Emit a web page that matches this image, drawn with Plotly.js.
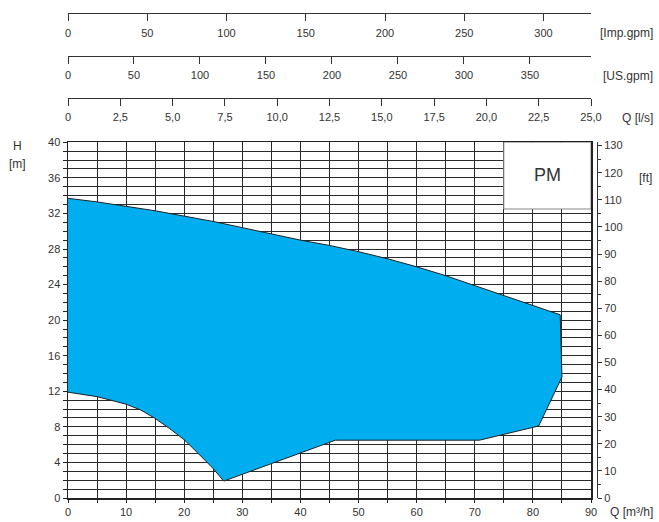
<!DOCTYPE html>
<html>
<head>
<meta charset="utf-8">
<script src="https://cdn.plot.ly/plotly-3.0.1.min.js"></script>
<style>html,body{margin:0;padding:0;background:#fff;}#chart{width:659px;height:522px;}</style>
</head>
<body>
<div id="chart"></div>
<script>
// ---- data ----
const Q_UPPER = [0, 5, 10, 15, 20, 25, 30, 35, 40, 45, 50, 55, 60, 65, 70, 75, 80, 84.7];
const H_UPPER = [33.7, 33.3, 32.8, 32.3, 31.7, 31.1, 30.4, 29.7, 29.0, 28.4, 27.7, 26.9, 26.0, 25.0, 23.9, 22.8, 21.7, 20.6];
const Q_RIGHT = [85.0, 81.0, 70.8, 46.0];
const H_RIGHT = [13.6, 8.1, 6.5, 6.5];
const Q_LOWER = [26.8, 25, 22.5, 20, 17.5, 15, 12.5, 10, 5, 0];
const H_LOWER = [1.9, 3.3, 4.95, 6.55, 7.8, 8.95, 9.9, 10.55, 11.4, 11.9];

const Q_TICKS = [0, 10, 20, 30, 40, 50, 60, 70, 80, 90];
const H_TICKS = [0, 4, 8, 12, 16, 20, 24, 28, 32, 36, 40];
const FT_TICKS = [0, 10, 20, 30, 40, 50, 60, 70, 80, 90, 100, 110, 120, 130];
const IMP_TICKS = [0, 50, 100, 150, 200, 250, 300];
const US_TICKS = [0, 50, 100, 150, 200, 250, 300, 350];
const LS_TICKS = [0, 2.5, 5, 7.5, 10, 12.5, 15, 17.5, 20, 22.5, 25];
const LS_LABELS = ['0', '2,5', '5,0', '7,5', '10,0', '12,5', '15,0', '17,5', '20,0', '22,5', '25,0'];

const Q_MAX = 90, H_MAX = 40;
const M3H_TO_IMP = 3.66615, M3H_TO_US = 4.40287, M3H_TO_LS = 1 / 3.6, M_TO_FT = 3.28084;

// ---- layout helpers ----
const W = 659, HGT = 522, ML = 68, MR = 62, MT = 10, MB = 24;
const PW = W - ML - MR, PH = HGT - MT - MB;
const px = p => (p - ML) / PW;
const py = p => (HGT - MB - p) / PH;
const XDOM = [0, (591 - ML) / PW];
const YDOM = [0, (HGT - MB - 142.3) / PH];

const FONT = 'Liberation Sans, Arial, sans-serif';
const TXT = '#333';
const GRID = '#2a2a2a';

const polyX = Q_UPPER.concat(Q_RIGHT, Q_LOWER);
const polyY = H_UPPER.concat(H_RIGHT, H_LOWER);

const traces = [
  {x: polyX, y: polyY, type: 'scatter', mode: 'lines', fill: 'toself',
   fillcolor: '#00AEEF', line: {color: '#222', width: 1}, hoverinfo: 'skip', showlegend: false},
  {x: [], y: [], xaxis: 'x', yaxis: 'y2', type: 'scatter', showlegend: false},
  {x: [], y: [], xaxis: 'x2', yaxis: 'y', type: 'scatter', showlegend: false},
  {x: [], y: [], xaxis: 'x3', yaxis: 'y', type: 'scatter', showlegend: false},
  {x: [], y: [], xaxis: 'x4', yaxis: 'y', type: 'scatter', showlegend: false}
];

function topAxis(pos, factor, vals, texts) {
  return {
    overlaying: 'x', anchor: 'free', position: pos, side: 'bottom',
    range: [0, Q_MAX * factor], tickmode: 'array', tickvals: vals, ticktext: texts || vals.map(String),
    showgrid: false, zeroline: false, showline: true, linecolor: '#333', linewidth: 1,
    ticks: 'outside', ticklen: 7, tickwidth: 1, tickcolor: '#333', ticklabelstandoff: 2,
    tickfont: {family: FONT, size: 11, color: TXT}, fixedrange: true
  };
}

const layout = {
  width: W, height: HGT,
  margin: {l: ML, r: MR, t: MT, b: MB, pad: 0},
  paper_bgcolor: '#fff', plot_bgcolor: '#fff',
  showlegend: false,
  font: {family: FONT, size: 11, color: TXT},
  xaxis: {
    domain: XDOM, range: [0, Q_MAX], tickmode: 'array', tickvals: Q_TICKS,
    showgrid: true, gridcolor: GRID, gridwidth: 1, zeroline: false,
    showline: true, mirror: true, linecolor: '#222', linewidth: 1.5,
    ticks: 'outside', ticklen: 3, tickcolor: '#222',
    minor: {dtick: 5, showgrid: true, gridcolor: GRID, gridwidth: 1, ticks: 'outside', ticklen: 3, tickcolor: '#222'},
    tickfont: {family: FONT, size: 11, color: TXT}, fixedrange: true
  },
  yaxis: {
    domain: YDOM, range: [0, H_MAX], tickmode: 'array', tickvals: H_TICKS,
    showgrid: true, gridcolor: GRID, gridwidth: 1, zeroline: false,
    showline: true, mirror: true, linecolor: '#222', linewidth: 1.5,
    ticks: 'outside', ticklen: 4, tickcolor: '#222',
    minor: {dtick: 1, showgrid: true, gridcolor: GRID, gridwidth: 1, ticks: 'outside', ticklen: 4, tickcolor: '#222'},
    tickfont: {family: FONT, size: 11, color: TXT}, fixedrange: true
  },
  yaxis2: {
    overlaying: 'y', side: 'right', anchor: 'free', position: 1,
    range: [0, H_MAX * M_TO_FT], tickmode: 'array', tickvals: FT_TICKS,
    showgrid: false, zeroline: false, showline: true, linecolor: '#333', linewidth: 1,
    ticks: 'outside', ticklen: 4, tickcolor: '#333',
    minor: {dtick: 5, ticks: 'outside', ticklen: 3, tickcolor: '#333', showgrid: false},
    tickfont: {family: FONT, size: 11, color: TXT}, fixedrange: true
  },
  xaxis2: topAxis(py(13.3), M3H_TO_IMP, IMP_TICKS),
  xaxis3: topAxis(py(55.7), M3H_TO_US, US_TICKS),
  xaxis4: topAxis(py(97.7), M3H_TO_LS, LS_TICKS, LS_LABELS),
  shapes: [
    {type: 'rect', xref: 'x', yref: 'y', x0: 75, x1: 90, y0: 32.5, y1: 40,
     fillcolor: '#fff', line: {color: '#888', width: 1}, layer: 'above'}
  ],
  annotations: [
    {text: 'PM', x: 82.5, y: 36.3, xref: 'x', yref: 'y', showarrow: false,
     font: {family: FONT, size: 18, color: '#333'}},
    {text: '[Imp.gpm]', x: px(655), y: py(33.3), xref: 'paper', yref: 'paper', xanchor: 'right', yanchor: 'middle', showarrow: false,
     font: {family: FONT, size: 12, color: TXT}},
    {text: '[US.gpm]', x: px(655), y: py(76), xref: 'paper', yref: 'paper', xanchor: 'right', yanchor: 'middle', showarrow: false,
     font: {family: FONT, size: 12, color: TXT}},
    {text: 'Q [l/s]', x: px(655), y: py(117.5), xref: 'paper', yref: 'paper', xanchor: 'right', yanchor: 'middle', showarrow: false,
     font: {family: FONT, size: 12, color: TXT}},
    {text: 'Q [m³/h]', x: px(655), y: py(511.7), xref: 'paper', yref: 'paper', xanchor: 'right', yanchor: 'middle', showarrow: false,
     font: {family: FONT, size: 12, color: TXT}},
    {text: '[ft]', x: px(654), y: py(178.3), xref: 'paper', yref: 'paper', xanchor: 'right', yanchor: 'middle', showarrow: false,
     font: {family: FONT, size: 12, color: TXT}},
    {text: 'H', x: px(17.5), y: py(146), xref: 'paper', yref: 'paper', xanchor: 'center', yanchor: 'middle', showarrow: false,
     font: {family: FONT, size: 12, color: TXT}},
    {text: '[m]', x: px(17.5), y: py(163.5), xref: 'paper', yref: 'paper', xanchor: 'center', yanchor: 'middle', showarrow: false,
     font: {family: FONT, size: 12, color: TXT}}
  ]
};

Plotly.newPlot('chart', traces, layout, {staticPlot: true, displayModeBar: false});
</script>
</body>
</html>
